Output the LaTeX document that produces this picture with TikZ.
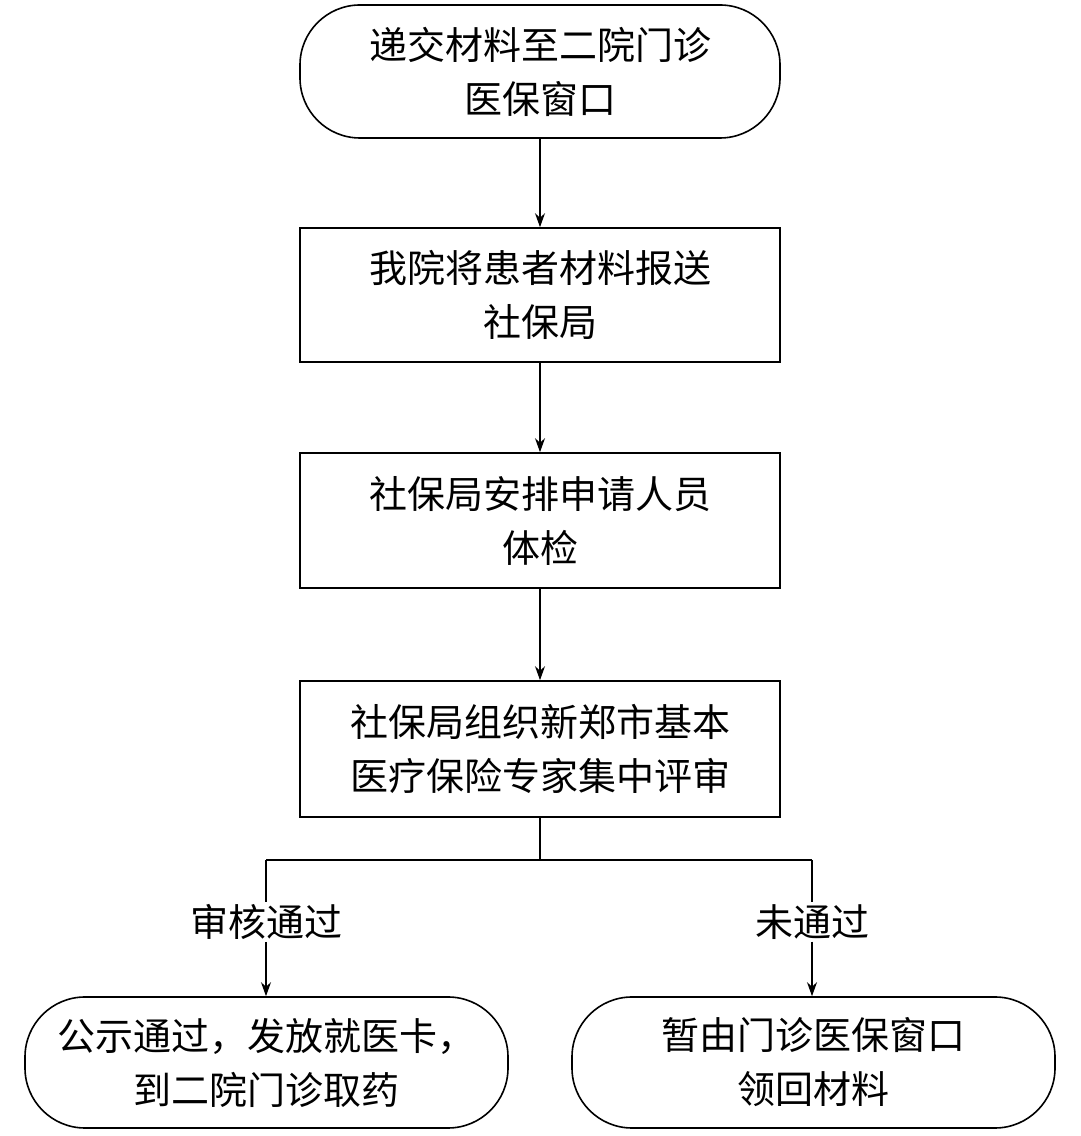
\documentclass[tikz,border=0pt]{standalone}
\usepackage{fontspec}
\newfontfamily\cjk{Noto Sans CJK SC}
\usetikzlibrary{arrows.meta}
\begin{document}
\begin{tikzpicture}[x=1pt,y=1pt,
  box/.style={draw,line width=1.6pt,minimum width=480pt,align=center,font=\cjk\fontsize{38}{54}\selectfont,inner sep=0pt},
  rbox/.style={box,rounded corners=60pt},
  lab/.style={font=\cjk\fontsize{38}{46}\selectfont,inner sep=2pt},
  arr/.style={-{Stealth[length=14pt,width=10pt]},line width=1.6pt},
  ln/.style={line width=1.6pt}]
\useasboundingbox (0,0) rectangle (1080,1136);
\node[rbox,minimum height=133pt] (a) at (540,1064.5) {递交材料至二院门诊\\医保窗口};
\node[box,minimum height=134pt] (b) at (540,841) {我院将患者材料报送\\社保局};
\node[box,minimum height=135pt] (c) at (540,615.5) {社保局安排申请人员\\体检};
\node[box,minimum height=136pt] (d) at (540,387) {社保局组织新郑市基本\\医疗保险专家集中评审};
\node[rbox,minimum width=483pt,minimum height=131pt] (e) at (266.5,73.5) {公示通过，发放就医卡，\\到二院门诊取药};
\node[rbox,minimum width=483pt,minimum height=131pt] (f) at (813.5,73.5) {暂由门诊医保窗口\\领回材料};
\node[lab] (l1) at (266,214) {审核通过};
\node[lab] (l2) at (812,214) {未通过};
\coordinate (j) at (540,276);
\coordinate (jl) at (266,276);
\coordinate (jr) at (812,276);
\draw[arr] (a) -- (b);
\draw[arr] (b) -- (c);
\draw[arr] (c) -- (d);
\draw[ln] (d.south) -- (j);
\draw[ln] (jl) -- (jr);
\draw[ln] (jl) -- (l1.north);
\draw[ln] (jr) -- (l2.north);
\draw[arr] (l1.south) -- (e.north -| l1.south);
\draw[arr] (l2.south) -- (f.north -| l2.south);
\end{tikzpicture}
\end{document}
